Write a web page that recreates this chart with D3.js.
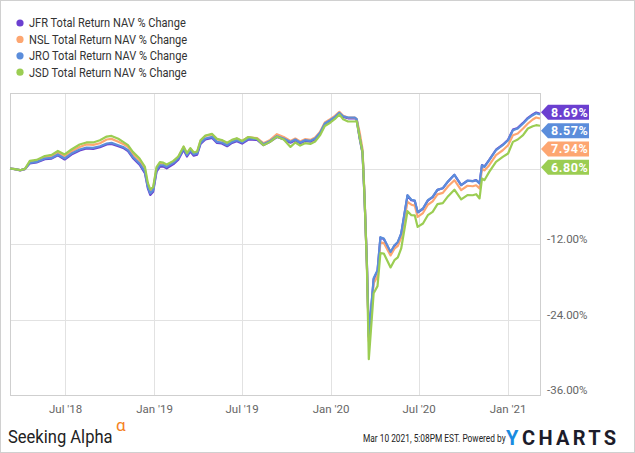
<!DOCTYPE html>
<html>
<head>
<meta charset="utf-8">
<script src="https://cdn.jsdelivr.net/npm/d3@7"></script>
<style>
  body { margin: 0; background: #fff; font-family: Roboto, "Liberation Sans", sans-serif; }
</style>
</head>
<body>
<svg id="chart" width="635" height="453"></svg>
<script>
// values (% change of total return NAV)
const dates = [
  "2018-03-09","2018-03-19","2018-03-30","2018-04-09","2018-04-19","2018-05-03","2018-05-20","2018-06-03","2018-06-16","2018-06-30",
  "2018-07-14","2018-07-31","2018-08-14","2018-08-28","2018-09-11","2018-09-25","2018-10-05","2018-10-19","2018-10-29","2018-11-08",
  "2018-11-18","2018-12-02","2018-12-13","2018-12-19","2018-12-24","2018-12-30","2019-01-06","2019-01-13","2019-01-20","2019-01-27",
  "2019-02-10","2019-02-20","2019-03-03","2019-03-10","2019-03-17","2019-03-24","2019-03-31","2019-04-07","2019-04-17","2019-05-01",
  "2019-05-11","2019-05-21","2019-06-01","2019-06-11","2019-06-21","2019-07-02","2019-07-15","2019-08-02","2019-08-15","2019-08-29",
  "2019-09-12","2019-09-26","2019-10-10","2019-10-20","2019-10-30","2019-11-09","2019-11-20","2019-11-30","2019-12-10","2019-12-20",
  "2019-12-31","2020-01-10","2020-01-19","2020-01-27","2020-02-06","2020-02-20","2020-02-24","2020-03-01","2020-03-07","2020-03-11",
  "2020-03-16","2020-03-20","2020-03-30","2020-04-07","2020-04-13","2020-04-20","2020-05-04","2020-05-12","2020-05-19","2020-05-26",
  "2020-06-08","2020-06-16","2020-06-23","2020-06-29","2020-07-10","2020-07-20","2020-07-30","2020-08-09","2020-08-20","2020-08-31",
  "2020-09-13","2020-09-27","2020-10-10","2020-10-21","2020-10-28","2020-11-04","2020-11-09","2020-11-14","2020-11-24","2020-12-08",
  "2020-12-22","2021-01-02","2021-01-12","2021-01-22","2021-02-02","2021-02-12","2021-02-22","2021-03-01","2021-03-09"
];

const jfr = [
  0, -0.1, -0.3, -0.1, 0.81, 0.97, 1.48, 1.57, 2.10, 1.43,
  2.22, 2.86, 3.18, 3.11, 3.38, 3.81, 3.91, 3.54, 3.27, 2.75,
  1.68, 0.60, -0.73, -3.11, -4.21, -3.69, -0.51, 0.28, 0.30, 0.03,
  0.69, 1.39, 2.98, 1.91, 2.71, 2.03, 2.18, 3.91, 4.61, 4.86,
  4.07, 3.97, 3.54, 4.07, 4.34, 3.97, 4.61, 4.53, 3.73, 4.26,
  5.00, 4.64, 4.10, 4.48, 4.00, 4.37, 4.26, 4.64, 5.53, 7.02,
  7.55, 8.07, 8.71, 8.18, 7.98, 7.98, 7.71, 4.80, 2.40, -4.40,
  -15.0, -26.8, -17.6, -16.3, -11.0, -11.2, -13.35, -12.3, -11.75, -10.4,
  -4.3, -5.05, -5.15, -7.0, -6.4, -5.1, -4.55, -3.4, -3.15, -2.05,
  -1.0, -2.65, -1.95, -2.0, -1.85, -2.35, 0.55, 0.3, 1.38, 2.98,
  3.78, 4.58, 6.18, 6.45, 7.25, 8.06, 8.58, 8.90, 8.69
];

const nsl = [
  0, -0.1, -0.27, -0.06, 1.05, 1.21, 1.83, 1.92, 2.55, 1.91,
  2.70, 3.42, 3.82, 3.75, 4.02, 4.61, 4.71, 4.26, 3.91, 3.39,
  2.24, 1.19, -0.14, -2.60, -3.65, -3.21, -0.03, 0.76, 0.76, 0.49,
  1.13, 1.83, 3.42, 2.35, 3.15, 2.47, 2.62, 4.39, 5.17, 5.42,
  4.63, 4.45, 4.02, 4.47, 4.74, 4.37, 5.01, 4.82, 4.02, 4.55,
  5.45, 5.01, 4.39, 4.77, 4.29, 4.66, 4.55, 4.93, 5.82, 7.31,
  7.84, 8.36, 9.00, 8.39, 8.11, 8.11, 7.84, 5.77, 3.07, -3.92,
  -15.21, -27.45, -18.24, -17.11, -11.72, -11.85, -13.82, -12.75, -12.31, -10.97,
  -5.30, -5.76, -5.89, -7.70, -7.08, -5.76, -5.23, -4.12, -3.88, -2.82,
  -1.86, -3.45, -2.74, -2.82, -2.66, -3.18, 0.00, -0.31, 0.52, 2.11,
  2.90, 3.70, 5.29, 5.56, 6.35, 7.15, 7.79, 8.11, 7.94
];

const jro = [
  0, -0.1, -0.27, -0.06, 0.89, 1.05, 1.59, 1.68, 2.23, 1.59,
  2.38, 3.02, 3.34, 3.27, 3.54, 3.97, 4.07, 3.70, 3.43, 2.91,
  1.84, 0.79, -0.54, -2.92, -3.97, -3.45, -0.27, 0.52, 0.52, 0.25,
  0.89, 1.59, 3.18, 2.11, 2.91, 2.23, 2.38, 4.07, 4.77, 5.02,
  4.23, 4.13, 3.70, 4.23, 4.50, 4.13, 4.77, 4.66, 3.86, 4.39,
  5.13, 4.77, 4.23, 4.61, 4.13, 4.50, 4.39, 4.77, 5.66, 7.15,
  7.68, 8.20, 8.84, 8.31, 8.11, 8.11, 7.84, 4.97, 2.59, -4.24,
  -14.89, -26.65, -17.44, -16.16, -10.92, -11.13, -13.26, -12.19, -11.67, -10.33,
  -4.24, -4.96, -5.09, -6.95, -6.36, -5.04, -4.51, -3.37, -3.13, -2.02,
  -0.99, -2.65, -1.94, -2.02, -1.86, -2.38, 0.52, 0.25, 1.32, 2.91,
  3.70, 4.50, 6.09, 6.36, 7.15, 7.95, 8.47, 8.79, 8.57
];

const jsd = [
  0, -0.1, -0.27, -0.06, 1.21, 1.37, 1.99, 2.16, 2.79, 2.23,
  3.02, 3.82, 4.14, 4.14, 4.49, 5.08, 5.18, 4.73, 4.23, 3.71,
  2.64, 1.59, 0.26, -2.28, -3.33, -2.97, 0.21, 1.00, 0.92, 0.65,
  1.21, 1.91, 3.50, 2.43, 3.23, 2.55, 2.70, 4.47, 5.25, 5.50,
  4.71, 4.53, 4.10, 4.55, 4.82, 4.37, 5.01, 4.74, 3.70, 4.23,
  5.05, 4.61, 3.43, 4.13, 3.65, 4.02, 3.91, 4.29, 5.26, 6.75,
  7.28, 7.88, 8.60, 7.83, 7.47, 7.47, 7.52, 4.97, 2.59, -4.24,
  -15.37, -30.30, -19.82, -18.70, -13.46, -13.51, -15.72, -14.57, -14.13, -12.71,
  -6.78, -7.42, -7.44, -9.29, -8.74, -7.42, -6.89, -5.67, -5.51, -4.40,
  -3.37, -4.92, -4.24, -4.25, -4.09, -4.76, -1.59, -1.86, -0.54, 1.05,
  1.84, 2.39, 4.23, 4.61, 5.29, 6.36, 6.72, 6.88, 6.80
];

const seriesNames = [
  "JFR Total Return NAV % Change",
  "NSL Total Return NAV % Change",
  "JRO Total Return NAV % Change",
  "JSD Total Return NAV % Change"
];
const seriesValues = [jfr, nsl, jro, jsd];
const seriesColors = ["#6b3fd0", "#fda671", "#5b8ddb", "#9bcd52"];

const yGridTicks = [-36, -24, -12, 0, 12];
const yLabelTicks = [-36, -24, -12];
const xTickDates = ["2018-07-01", "2019-01-01", "2019-07-01", "2020-01-01", "2020-07-01", "2021-01-01"];
const xTickLabels = ["Jul '18", "Jan '19", "Jul '19", "Jan '20", "Jul '20", "Jan '21"];

const parse = d3.timeParse("%Y-%m-%d");
const W = 635, H = 453;
const plot = { left: 10, right: 540, top: 93, bottom: 395 };

const svg = d3.select("#chart");

// outer border
svg.append("rect")
  .attr("x", 0.5).attr("y", 0.5)
  .attr("width", W - 1).attr("height", H - 1)
  .attr("fill", "#fff").attr("stroke", "#d0d0d0");

const x = d3.scaleTime()
  .domain([parse(dates[0]), parse(dates[dates.length - 1])])
  .range([plot.left, plot.right]);

const y = d3.scaleLinear()
  .domain([-36, 12])
  .range([plot.bottom, plot.top]);

// grid lines
svg.append("g")
  .attr("class", "grid-y")
  .selectAll("line")
  .data(yGridTicks)
  .enter()
  .append("line")
  .attr("x1", plot.left).attr("x2", plot.right)
  .attr("y1", d => Math.round(y(d)) + 0.5)
  .attr("y2", d => Math.round(y(d)) + 0.5)
  .attr("stroke", "#e2e2e2");

svg.append("g")
  .attr("class", "grid-x")
  .selectAll("line")
  .data(xTickDates)
  .enter()
  .append("line")
  .attr("x1", d => Math.round(x(parse(d))) + 0.5)
  .attr("x2", d => Math.round(x(parse(d))) + 0.5)
  .attr("y1", plot.top).attr("y2", plot.bottom)
  .attr("stroke", "#e2e2e2");

// plot frame
svg.append("rect")
  .attr("x", plot.left + 0.5).attr("y", plot.top + 0.5)
  .attr("width", plot.right - plot.left).attr("height", plot.bottom - plot.top)
  .attr("fill", "none").attr("stroke", "#cfcfcf");

// x axis labels
const xAxis = d3.axisBottom(x)
  .tickValues(xTickDates.map(parse))
  .tickFormat((d, i) => xTickLabels[i])
  .tickSize(0)
  .tickPadding(10);

const xg = svg.append("g")
  .attr("transform", `translate(0,${plot.bottom})`)
  .call(xAxis);
xg.select(".domain").remove();
xg.selectAll("text")
  .attr("fill", "#666")
  .style("font-size", "11.5px")
  .style("font-family", "Roboto, sans-serif");

// y axis labels (right side)
const yAxis = d3.axisRight(y)
  .tickValues(yLabelTicks)
  .tickFormat(d => d.toFixed(2) + "%")
  .tickSize(0)
  .tickPadding(7);

const yg = svg.append("g")
  .attr("transform", `translate(${plot.right},0)`)
  .call(yAxis);
yg.select(".domain").remove();
yg.selectAll("text")
  .attr("fill", "#666")
  .attr("dy", "-0.1em")
  .style("font-size", "11.5px")
  .style("font-family", "Roboto, sans-serif");

// lines
const line = d3.line()
  .x((d, i) => x(parse(dates[i])))
  .y(d => y(d));

svg.append("g")
  .attr("class", "series")
  .selectAll("path")
  .data(seriesValues)
  .enter()
  .append("path")
  .attr("d", d => line(d))
  .attr("fill", "none")
  .attr("stroke", (d, i) => seriesColors[i])
  .attr("stroke-width", 2.2)
  .attr("stroke-linejoin", "round");

// legend (text is a bit condensed in the original)
const legend = svg.append("g").attr("class", "legend");
seriesNames.forEach(function (name, i) {
  const ly = 23 + i * 16.4;
  legend.append("circle")
    .attr("cx", 20).attr("cy", ly)
    .attr("r", 3.6)
    .attr("fill", seriesColors[i]);
  legend.append("text")
    .attr("transform", `translate(29,${ly + 4.3}) scale(0.9,1)`)
    .attr("fill", "#333")
    .style("font-size", "12.3px")
    .style("font-family", "Roboto, sans-serif")
    .text(name);
});

// end value tags, stacked so they do not overlap
let tags = seriesValues.map((v, i) => ({ value: v[v.length - 1], color: seriesColors[i] }));
tags.sort((a, b) => b.value - a.value);
let prev = -Infinity;
tags.forEach(function (t) {
  t.cy = Math.max(y(t.value) - 1.5, prev + 18.3);
  prev = t.cy;
});

const tagG = svg.append("g").attr("class", "tags");
tags.forEach(function (t) {
  const tx = plot.right + 1, h = 15, bx = tx + 7, bw = 41;
  tagG.append("path")
    .attr("d", `M${tx},${t.cy} L${bx},${t.cy - h / 2} L${bx + bw},${t.cy - h / 2} L${bx + bw},${t.cy + h / 2} L${bx},${t.cy + h / 2} Z`)
    .attr("fill", t.color);
  tagG.append("text")
    .attr("x", bx + 3).attr("y", t.cy + 4.5)
    .attr("fill", "#fff")
    .style("font-size", "12.5px")
    .style("font-weight", "bold")
    .style("letter-spacing", "0.6px")
    .style("font-family", "Roboto, sans-serif")
    .text(t.value.toFixed(2) + "%");
});

// footer: condensed with a horizontal scale
svg.append("text")
  .attr("transform", "translate(8,443) scale(0.92,1)")
  .attr("fill", "#222")
  .style("font-size", "18px")
  .style("font-family", "Roboto, sans-serif")
  .text("Seeking Alpha");
svg.append("text")
  .attr("x", 116).attr("y", 431)
  .attr("fill", "#f5821f")
  .style("font-size", "17px")
  .style("font-family", "Roboto, sans-serif")
  .text("α");

svg.append("text")
  .attr("transform", "translate(363,442) scale(0.76,1)")
  .attr("fill", "#222")
  .style("font-size", "11px")
  .style("font-family", "Roboto, sans-serif")
  .text("Mar 10 2021, 5:08PM EST.  Powered by");

svg.append("text")
  .attr("x", 506).attr("y", 445)
  .attr("fill", "#1a8be0")
  .style("font-size", "20px")
  .style("font-weight", "bold")
  .style("font-family", "Roboto, sans-serif")
  .text("Y");
svg.append("text")
  .attr("x", 522).attr("y", 445)
  .attr("fill", "#1c1c2a")
  .style("font-size", "20px")
  .style("font-weight", "bold")
  .style("letter-spacing", "3.3px")
  .style("font-family", "Roboto, sans-serif")
  .text("CHARTS");
</script>
</body>
</html>
